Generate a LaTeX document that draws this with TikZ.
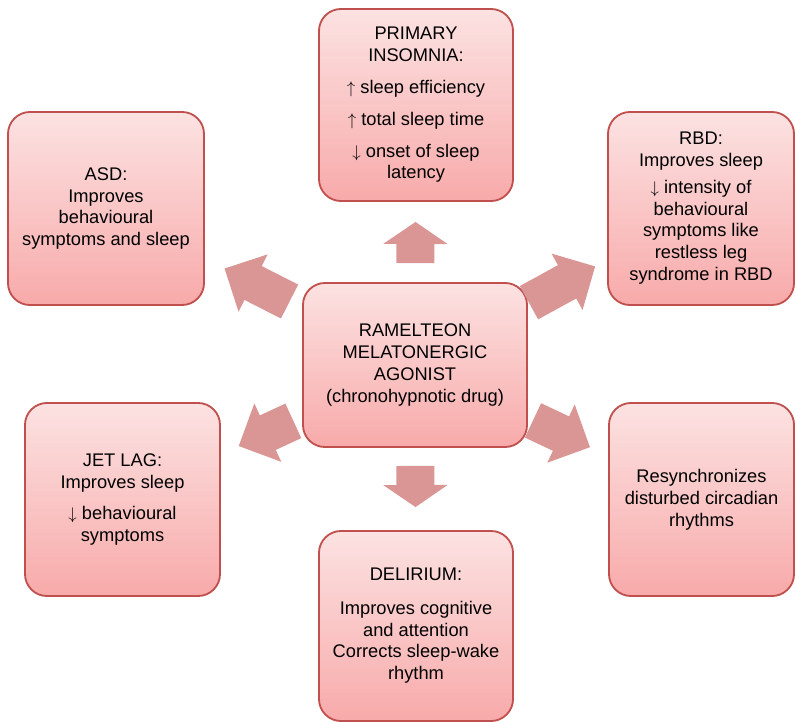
\documentclass[tikz,border=0pt]{standalone}
\usepackage{fontspec}
\setmainfont{Liberation Sans}
\usetikzlibrary{arrows.meta}

\definecolor{boxedge}{RGB}{192,80,77}
\definecolor{boxtop}{RGB}{252,226,226}
\definecolor{boxbot}{RGB}{248,170,170}
\definecolor{arrowpink}{RGB}{217,150,148}

\tikzset{
  effect/.style={rectangle,rounded corners=0.55cm,draw=boxedge,line width=1.3pt,
    top color=boxtop,bottom color=boxbot,align=center,inner sep=2pt,
    minimum height=4.825cm},
  blockarr/.style={draw=arrowpink,line width=0.95cm,
    -{Triangle[length=0.55cm,width=1.6cm,line width=1pt]}},
  diagarr/.style={draw=arrowpink,line width=0.95cm,
    -{Triangle[length=0.8cm,width=1.6cm,line width=1pt]}}
}

\newcommand{\up}{$\uparrow$ }
\newcommand{\dn}{$\downarrow$ }

\begin{document}
\begin{tikzpicture}[x=0.025cm,y=-0.025cm,font=\fontsize{13pt}{15.6pt}\selectfont]
  \useasboundingbox (0,0) rectangle (795,722);

  % centre drug
  \node[effect,minimum width=5.6cm,minimum height=4.1cm] (drug) at (415,365)
    {RAMELTEON\\MELATONERGIC\\AGONIST\\(chronohypnotic drug)};

  % indications
  \node[effect,minimum width=4.85cm,minimum height=4.8cm] (insom) at (416,105)
    {PRIMARY\\INSOMNIA:\\[7pt]\up sleep efficiency\\[7pt]\up total sleep time\\[7pt]\dn onset of sleep\\latency};
  \node[effect,minimum width=4.9cm] (asd) at (106,208.5)
    {ASD:\\Improves\\behavioural\\symptoms and sleep};
  \node[effect,minimum width=4.65cm] (rbd) at (701,208.5)
    {RBD:\\Improves sleep\\[3pt]\dn intensity of\\behavioural\\symptoms like\\restless leg\\syndrome in RBD};
  \node[effect,minimum width=4.875cm] (jetlag) at (122.5,499.5)
    {JET LAG:\\Improves sleep\\[7pt]\dn behavioural\\symptoms};
  \node[effect,minimum width=4.625cm] (resync) at (701.5,499.5)
    {Resynchronizes\\disturbed circadian\\rhythms};
  \node[effect,minimum width=4.85cm,minimum height=4.75cm] (delir) at (416,626)
    {DELIRIUM:\\[8pt]Improves cognitive\\and attention\\Corrects sleep-wake\\rhythm};

  % block arrows out of the drug
  \draw[blockarr,shorten <=0.475cm,shorten >=0.5cm] (drug) -- (insom);
  \draw[blockarr,shorten <=0.45cm,shorten >=0.575cm] (drug) -- (delir);
  \draw[diagarr,shorten <=0.03cm,shorten >=0.34cm] (drug) -- (rbd);
  \draw[diagarr,shorten <=0.35cm,shorten >=0.55cm] (drug) -- (asd);
  \draw[diagarr,shorten <=0.24cm,shorten >=0.49cm] (drug) -- (jetlag);
  \draw[diagarr,shorten <=0.14cm,shorten >=0.5cm] (drug) -- (resync);

\end{tikzpicture}
\end{document}
